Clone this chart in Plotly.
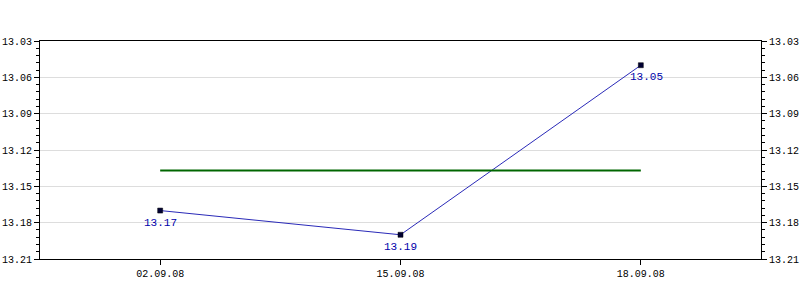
import plotly.graph_objects as go

dates = ["02.09.08", "15.09.08", "18.09.08"]
values = [13.17, 13.19, 13.05]
avg_value = 13.137
y_ticks = [13.03, 13.06, 13.09, 13.12, 13.15, 13.18, 13.21]

FONT_FAMILY = "Liberation Mono"
font = dict(family=FONT_FAMILY, size=10, color="#000000")

fig = go.Figure()
fig.add_trace(go.Scatter(x=dates, y=values, mode="lines+markers",
                         line=dict(color="#2a2ab8", width=1),
                         marker=dict(symbol="square", size=5, color="#000033",
                                     line=dict(color="#000000", width=0.5)),
                         showlegend=False))
fig.add_trace(go.Scatter(x=[dates[0], dates[-1]], y=[avg_value, avg_value], mode="lines",
                         line=dict(color="#006600", width=2), hoverinfo="skip", showlegend=False))
fig.add_trace(go.Scatter(x=dates, y=values, yaxis="y2", mode="markers",
                         marker=dict(opacity=0), hoverinfo="skip", showlegend=False))

xshifts = [0, 0, 6]
for d, v, xs in zip(dates, values, xshifts):
    fig.add_annotation(x=d, y=v, text=f"{v:.2f}", showarrow=False, yshift=-12, xshift=xs,
                       font=dict(family=FONT_FAMILY, size=11, color="#0000aa"))

yaxis_common = dict(range=[13.21, 13.03], tickvals=y_ticks, ticktext=[f"{t:.2f}" for t in y_ticks],
                    ticks="outside", ticklen=5, tickcolor="#000000", tickfont=font,
                    showline=True, linecolor="#000000", linewidth=1, zeroline=False,
                    automargin=False,
                    minor=dict(dtick=0.006, tick0=13.03, ticks="outside", ticklen=3,
                               tickcolor="#000000", showgrid=False))

fig.update_layout(
    width=800, height=300,
    margin=dict(l=40, r=39, t=41, b=41),
    paper_bgcolor="#ffffff", plot_bgcolor="#ffffff",
    xaxis=dict(type="category", categoryorder="array", categoryarray=dates,
               range=[-0.5, 2.5], ticks="outside", ticklen=5, automargin=False,
               tickcolor="#000000", tickfont=font, showline=True, linecolor="#000000",
               linewidth=1, mirror=True, showgrid=False, zeroline=False),
    yaxis=dict(**yaxis_common, side="left", showgrid=True, gridcolor="#dddddd", gridwidth=1),
    yaxis2=dict(**yaxis_common, side="right", overlaying="y", showgrid=False),
)

fig.write_html("out.html")
